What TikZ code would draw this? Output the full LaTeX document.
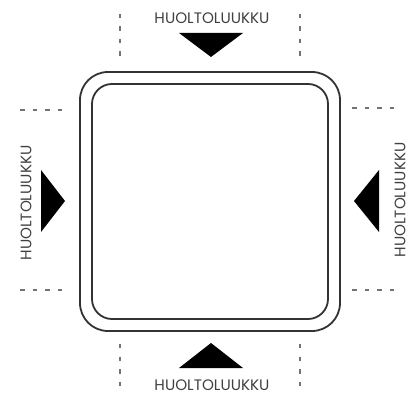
\documentclass[tikz,border=0pt]{standalone}
\usepackage{fontspec}
\setmainfont{Poppins}
\begin{document}
\begin{tikzpicture}[x=1pt,y=-1pt,
  frame/.style={draw=black!80, line width=1.8pt},
  guide/.style={draw=black!55, line width=1.4pt, dash pattern=on 4.5pt off 8pt},
  marker/.style={fill=black, draw=none},
  hatch/.style={font=\fontsize{15.2}{17}\selectfont, text=black!75, inner sep=0pt}]
\useasboundingbox (0,0) rectangle (416,396);
% service hatch body: double rounded frame
\draw[frame, rounded corners=28pt] (80,72) rectangle (340,331);
\draw[frame, rounded corners=20pt] (92,84) rectangle (328,319);
% top access
\draw[guide] (120,14) -- (120,58);
\draw[guide] (300,14) -- (300,58);
\node[hatch] (ttop) at (212,18) {HUOLTOLUUKKU};
\path[marker] (179,33) -- (243,33) -- (211,57) -- cycle;
% bottom access
\draw[guide] (120,344) -- (120,392);
\draw[guide] (300,344) -- (300,392);
\node[hatch] (tbot) at (212,385) {HUOLTOLUUKKU};
\path[marker] (179,368) -- (243,368) -- (211,343) -- cycle;
% left access
\draw[guide] (20,110) -- (68,110);
\draw[guide] (20,290) -- (68,290);
\node[hatch, rotate=90] (tleft) at (26,203) {HUOLTOLUUKKU};
\path[marker] (41,170) -- (41,232) -- (65,201) -- cycle;
% right access
\draw[guide] (352,108) -- (400,108);
\draw[guide] (352,290) -- (400,290);
\node[hatch, rotate=90] (tright) at (400,200) {HUOLTOLUUKKU};
\path[marker] (379,170) -- (379,232) -- (354,201) -- cycle;
\end{tikzpicture}
\end{document}
